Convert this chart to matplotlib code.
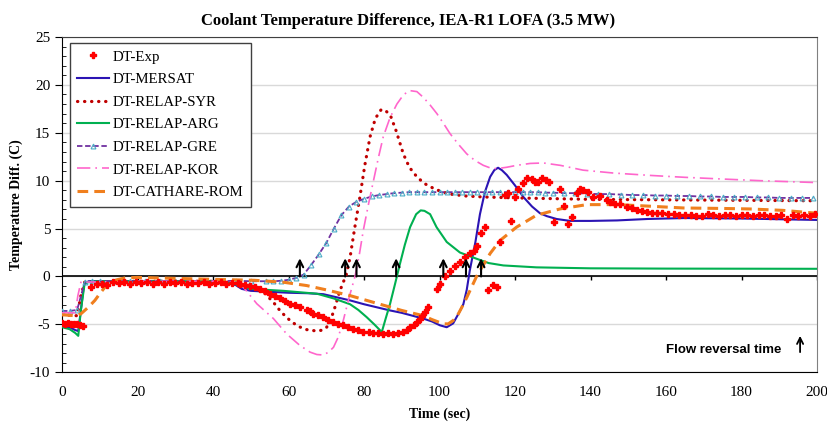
import matplotlib
matplotlib.use("Agg")
import matplotlib.pyplot as plt
from matplotlib.ticker import MultipleLocator

plt.rcParams["font.family"] = ["Liberation Serif", "DejaVu Serif"]
plt.rcParams["axes.unicode_minus"] = False

# Experimental data (time s, temperature difference C)
exp_t = [0, 0.8, 1.6, 2.4, 3.2, 4.0, 4.8, 5.5,
         7.8, 9.2, 10.5, 12, 13.5, 15, 16.5, 18, 19.5, 21, 22.5, 24, 25.5, 27, 28.5,
         30, 31.5, 33, 34.5, 36, 37.5, 39, 40.5, 42, 43.5, 45, 46.5,
         47.2, 48.5, 49.8, 51.2, 52.5, 53.8, 55.1, 56.4, 57.7, 59, 60.4, 61.7, 63,
         64.8, 65.7, 66.6, 67.9, 69.2, 70.5, 71.9, 73.2, 74.5, 75.8, 77.2, 78.5,
         79.8, 81.2, 82.5, 83.8, 85.1, 86.4, 87.8, 89.1, 90.4, 91.3, 92.2, 93.1,
         94, 94.7, 95.3, 96.2, 97,
         99.2, 100.1, 101.5, 102.8, 104.1, 105.4, 106.8, 108, 109.1, 110, 110.9, 112,
         112.9, 114.2, 115.1, 116, 117.3, 118.2, 118.8, 120, 120.9, 122.2, 123.1,
         124.4, 125.3, 126.2, 127.1, 128.2, 129.1, 130.2, 131.9, 133, 134.1, 135,
         136.3, 137.2, 138.1, 139.4, 140.7, 142.5, 144.3, 145.2, 146.5, 147.8, 149.6,
         151, 152.2, 153.5, 154.9, 156.2, 157.5, 159, 160.5, 162, 163.5, 165, 166.5,
         168, 169.5, 171, 172.5, 174, 175.5, 177, 178.5, 180, 181.5, 183, 184.5,
         186, 187.5, 189, 190.5, 192, 193.5, 195, 196.5, 198, 199.5]
exp_v = [-4.9, -5.0, -4.9, -5.0, -5.0, -5.0, -5.1, -5.2,
         -1.1, -0.8, -0.75, -0.9, -0.6, -0.7, -0.6, -0.8, -0.55, -0.7, -0.6, -0.75, -0.6, -0.8, -0.6,
         -0.7, -0.55, -0.8, -0.65, -0.7, -0.6, -0.75, -0.65, -0.6, -0.8, -0.7, -0.65,
         -0.8, -0.9, -0.95, -1.1, -1.3, -1.55, -1.8, -2.05, -2.3, -2.55, -2.85, -3.0, -3.2,
         -3.45, -3.6, -3.9, -4.0, -4.25, -4.5, -4.8, -4.95, -5.1, -5.3, -5.45, -5.6,
         -5.75, -5.85, -5.9, -5.95, -6.0, -5.95, -6.0, -5.95, -5.8, -5.55, -5.3, -5.05,
         -4.8, -4.45, -4.1, -3.7, -3.2,
         -1.3, -0.8, 0.1, 0.6, 1.05, 1.5, 2.0, 2.45, 2.7, 3.2, 4.5, 5.15,
         -1.45, -0.85, -1.05, 3.65, 8.55, 8.7, 5.75, 8.3, 9.15, 9.8, 10.3,
         10.2, 9.85, 9.85, 10.3, 10.1, 9.85, 5.7, 9.15, 7.4, 5.5, 6.25,
         8.7, 9.15, 9.05, 8.8, 8.3, 8.35, 8.0, 7.75, 7.6, 7.6, 7.25,
         7.1, 6.95, 6.8, 6.7, 6.65, 6.6, 6.6, 6.5, 6.55, 6.45, 6.4, 6.45,
         6.35, 6.35, 6.5, 6.45, 6.3, 6.4, 6.45, 6.35, 6.4, 6.45, 6.3, 6.4,
         6.4, 6.35, 6.3, 6.4, 6.05, 6.4, 6.35, 6.4, 6.3, 6.5]

mersat_t = [0, 2, 3.5, 4.3, 5, 5.8, 7, 20, 40, 44, 46, 47.6, 50, 55, 60, 65, 69.2,
            76.3, 80, 86.9, 90, 95.7, 98, 100.1, 101.9, 103.6, 105, 106.3, 107.2,
            108, 109.5, 110.7, 112, 113.4, 114.5, 115.5, 116.5, 117.8, 120, 122.2,
            124.5, 126.6, 128.4, 131, 134.6, 140, 147, 155, 165, 180, 200]
mersat_v = [-5.2, -5.3, -5.6, -5.7, -3.5, -0.9, -0.5, -0.5, -0.55, -0.7, -0.9, -1.3, -1.5, -1.6, -1.7, -1.75, -1.85,
            -2.5, -2.9, -3.55, -3.8, -4.4, -4.7, -5.1, -5.3, -4.9, -3.9, -2.9, -1.4,
            0.6, 3.6, 6.5, 8.8, 10.4, 11.1, 11.35, 11.1, 10.6, 9.5, 8.3,
            7.3, 6.6, 6.3, 6.0, 5.8, 5.8, 5.85, 6.0, 6.1, 6.05, 5.9]

syr_t = [0, 4, 5, 6, 20, 40, 45, 47, 50, 53.3, 56, 58, 60.4, 62.5, 64.8, 67.5, 69,
         70.1, 71.2, 72.3, 73.6, 75.3, 76.3, 77.5, 78.9, 80.2, 81.6, 83, 84.5,
         85.5, 87, 88.5, 90.4, 92, 94, 96, 98.4, 100.5, 102.8, 107, 111.6, 120,
         140, 160, 200]
syr_v = [-4.0, -4.1, -2.0, -0.6, -0.5, -0.5, -0.6, -0.9, -1.2, -1.6, -2.7, -3.7, -4.6, -5.2, -5.55, -5.7, -5.6,
         -5.3, -4.5, -3.2, -1.5, 0.2, 2.0, 5.0, 8.3, 11.6, 14.6, 16.5, 17.4,
         17.4, 16.8, 15.2, 12.8, 11.4, 10.4, 9.7, 9.2, 8.85, 8.6, 8.4, 8.3, 8.2,
         8.05, 8.0, 7.9]

arg_t = [0, 2, 3.5, 4.3, 5, 6, 8, 40, 45, 48, 50, 58.6, 67.5, 72, 76.3, 78.5,
         80.7, 82.7, 84.7, 85.8, 86.9, 88.2, 89.5, 90.8, 92.2, 93.8, 95, 96,
         97.5, 99.2, 101.9, 105.4, 109.8, 113, 116.9, 125.7, 140, 160, 200]
arg_v = [-5.3, -5.5, -5.9, -6.2, -3.5, -0.7, -0.5, -0.5, -0.7, -1.1, -1.3, -1.5, -1.8, -2.3, -2.9, -3.5,
         -4.25, -5.0, -5.8, -4.3, -2.85, -0.8, 1.3, 3.3, 5.15, 6.5, 6.9, 6.85,
         6.5, 5.15, 3.6, 2.5, 1.85, 1.4, 1.15, 0.95, 0.85, 0.82, 0.8]

gre_t = [0, 2, 4, 6, 8, 10, 14, 18, 22, 26, 30, 34, 38, 42, 46, 50, 54, 56, 58,
         60, 62, 64, 66, 68, 70, 72, 74, 76, 78, 80, 82, 84, 86, 88, 90, 92, 94,
         96, 98, 100, 102, 104, 106, 108, 110, 112, 114, 116, 118, 120, 122, 124,
         126, 128, 130, 133, 136, 139, 142, 145, 148, 151, 154, 157, 160, 163,
         166, 169, 172, 175, 178, 181, 184, 187, 190, 193, 196, 199]
gre_v = [-3.6, -3.6, -3.5, -0.6, -0.5, -0.5, -0.45, -0.5, -0.45, -0.5, -0.45, -0.5, -0.45, -0.5, -0.45, -0.5, -0.5, -0.5, -0.45,
         -0.35, -0.15, 0.2, 1.2, 2.3, 3.5, 5.0, 6.4, 7.3, 7.8, 8.1, 8.35, 8.5, 8.6, 8.7, 8.75, 8.8, 8.8,
         8.8, 8.8, 8.8, 8.8, 8.8, 8.8, 8.8, 8.8, 8.8, 8.8, 8.8, 8.8, 8.8, 8.8, 8.8,
         8.8, 8.75, 8.75, 8.7, 8.7, 8.65, 8.6, 8.6, 8.55, 8.5, 8.5, 8.45, 8.45, 8.4,
         8.4, 8.35, 8.35, 8.3, 8.3, 8.3, 8.25, 8.25, 8.2, 8.2, 8.2, 8.2]

kor_t = [0, 3.5, 4.2, 5, 20, 40, 45, 48, 51.6, 56, 59.5, 63, 65.7, 67.5, 69.2,
         70.6, 71.9, 73.2, 74.5, 75.9, 77.6, 78.8, 79.8, 81.1, 82.5, 83.8, 85.1,
         86.9, 88.7, 90.5, 92.2, 94, 95.7, 97.5, 99.3, 101, 102.8, 105, 107.2,
         109.4, 111.6, 113.3, 115.1, 117.8, 120.4, 124, 127.5, 132, 138, 146,
         155.8, 165, 173.4, 185, 200]
kor_v = [-3.8, -3.8, -2.0, -0.6, -0.5, -0.5, -0.6, -1.1, -2.85, -4.4, -6.0, -7.2, -7.9, -8.15, -8.2,
         -7.9, -7.4, -6.3, -4.6, -2.4, 0.0, 2.4, 4.8, 7.4, 10.0, 12.4, 14.6,
         16.6, 18.0, 19.0, 19.4, 19.3, 18.7, 17.9, 17.0, 16.0, 14.9, 13.8, 12.8,
         12.1, 11.6, 11.35, 11.25, 11.4, 11.6, 11.8, 11.85, 11.6, 11.1, 10.8,
         10.55, 10.35, 10.2, 10.0, 9.8]

rom_t = [0, 3.6, 5, 7, 8.7, 10, 11.4, 13, 14.5, 16.7, 20, 30, 40, 51, 58.6,
         64.8, 70, 76.3, 80.7, 86.9, 90, 95.7, 98, 101, 102.3, 103.6, 104.5,
         105.8, 107.2, 108.5, 109.8, 110.7, 113.4, 116, 120.4, 125.7, 131.9, 139,
         147, 155, 164.6, 175, 182, 191, 200]
rom_v = [-4.0, -4.1, -3.9, -3.2, -2.5, -1.8, -1.1, -0.6, -0.35, -0.15, -0.1, -0.2, -0.3, -0.4, -0.6,
         -0.95, -1.4, -2.0, -2.5, -3.2, -3.55, -4.1, -4.5, -4.95, -4.95, -4.6, -4.25,
         -3.3, -2.2, -1.1, 0.0, 0.6, 2.4, 3.75, 5.15, 6.4, 7.05, 7.5,
         7.5, 7.35, 7.15, 7.1, 7.05, 6.9, 6.6]

# times where flow reversal happens for each code
reversal_t = [63, 75, 78, 88.5, 101, 107, 111]

fig, ax = plt.subplots(figsize=(8.27, 4.23), dpi=100)
fig.subplots_adjust(left=0.075, right=0.988, top=0.9125, bottom=0.12)

ax.plot(mersat_t, mersat_v, color="#2B14B4", lw=1.5, label="DT-MERSAT", zorder=3)
ax.plot(syr_t, syr_v, color="#C00000", lw=2.3, linestyle=(0, (0.1, 2.1)),
        dash_capstyle="round", label="DT-RELAP-SYR", zorder=3)
ax.plot(arg_t, arg_v, color="#00B050", lw=1.5, label="DT-RELAP-ARG", zorder=3)
ax.plot(gre_t, gre_v, color="#7030A0", lw=1.3, linestyle=(0, (3, 1.5)),
        marker="^", markersize=3.5, markerfacecolor="none",
        markeredgecolor="#4BACC6", markeredgewidth=0.8,
        label="DT-RELAP-GRE", zorder=3)
ax.plot(kor_t, kor_v, color="#FF66CC", lw=1.2, linestyle=(0, (8, 3, 1, 3)),
        label="DT-RELAP-KOR", zorder=3)
ax.plot(rom_t, rom_v, color="#F07F1E", lw=2.2, linestyle=(0, (3.5, 2)),
        label="DT-CATHARE-ROM", zorder=3)
ax.plot(exp_t, exp_v, linestyle="none", marker="P", markersize=4.5,
        color="#FF0000", label="DT-Exp", zorder=4)

# axis line at 0 with x tick marks on it
xticks = list(range(0, 201, 20))
ax.axhline(0, color="black", lw=1.2, zorder=2)
ax.vlines(xticks[1:], -0.35, 0, color="black", lw=1, zorder=2)

for t in reversal_t:
    ax.annotate("", xy=(t, 1.9), xytext=(t, 0),
                arrowprops=dict(arrowstyle="->", lw=1.5, color="black",
                                mutation_scale=12, shrinkA=0, shrinkB=0),
                zorder=5)
ax.annotate("", xy=(195.5, -6.2), xytext=(195.5, -7.9),
            arrowprops=dict(arrowstyle="->", lw=1.3, color="black",
                            mutation_scale=11, shrinkA=0, shrinkB=0))
ax.text(190.5, -7.7, "Flow reversal time", ha="right", va="center",
        fontsize=9.5, fontweight="bold",
        family=["Liberation Sans Narrow", "Liberation Sans", "DejaVu Sans"])

ax.set_xlim(0, 200)
ax.set_ylim(-10, 25)
ax.set_xticks(xticks)
ax.yaxis.set_major_locator(MultipleLocator(5))
ax.yaxis.set_minor_locator(MultipleLocator(1))
ax.grid(axis="y", color="#D9D9D9", lw=1, zorder=0)
ax.set_axisbelow(True)
ax.tick_params(axis="x", length=0, pad=10, labelsize=11)
ax.tick_params(axis="y", which="major", direction="out", length=5, labelsize=11)
ax.tick_params(axis="y", which="minor", direction="in", length=3)
ax.spines["top"].set_color("#404040")
ax.spines["right"].set_color("#808080")

ax.set_xlabel("Time (sec)", fontsize=10, fontweight="bold", labelpad=6)
ax.set_ylabel("Temperature Diff. (C)", fontsize=10, fontweight="bold", labelpad=5)
fig.suptitle("Coolant Temperature Difference, IEA-R1 LOFA (3.5 MW)",
             x=0.494, y=0.97, fontsize=12, fontweight="bold")

handles, labels = ax.get_legend_handles_labels()
order = [6, 0, 1, 2, 3, 4, 5]
leg = ax.legend([handles[i] for i in order], [labels[i] for i in order],
                loc="upper left", bbox_to_anchor=(0.0105, 0.983), borderaxespad=0,
                fontsize=10.7, fancybox=False, framealpha=1, edgecolor="#404040",
                handlelength=2.1, handletextpad=0.3, labelspacing=0.62,
                borderpad=0.5, numpoints=1)
leg.get_frame().set_linewidth(1.0)
leg.set_zorder(6)

fig.savefig("out.png", dpi=100)
